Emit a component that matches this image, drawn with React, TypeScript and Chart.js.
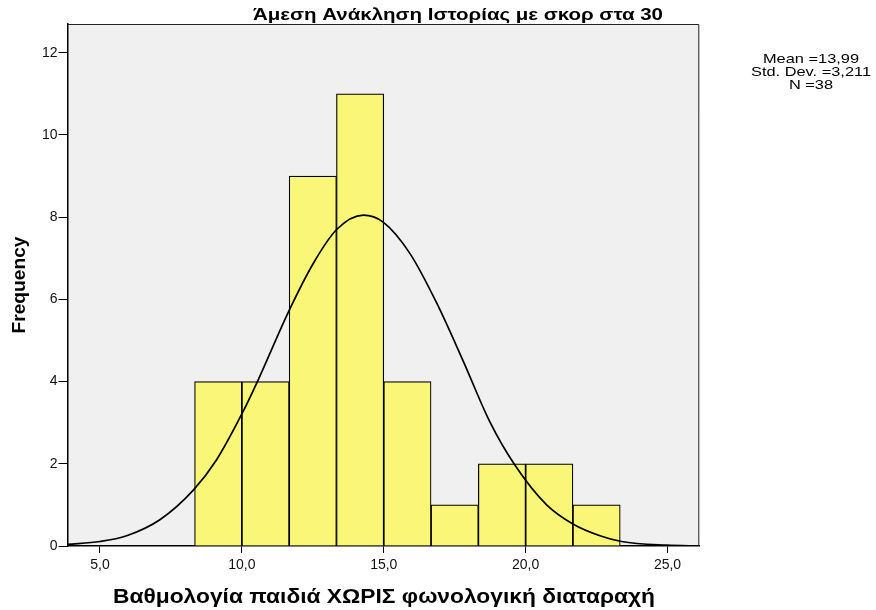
import React, { useEffect, useRef } from 'react';
import { Chart, registerables } from 'chart.js';

Chart.register(...registerables);

const chartTitle = 'Άμεση Ανάκληση Ιστορίας με σκορ στα 30';
const xAxisTitle = 'Βαθμολογία παιδιά ΧΩΡΙΣ φωνολογική διαταραχή';
const yAxisTitle = 'Frequency';
const statsLines = ['Mean =13,99', 'Std. Dev. =3,211', 'N =38'];

const binStarts = [8.3333, 10.0, 11.6667, 13.3333, 15.0, 16.6667, 18.3333, 20.0, 21.6667];
const binWidth = 1.6667;
const frequencies = [4, 4, 9, 11, 4, 1, 2, 2, 1];

const curveX = [3.85, 5.0, 5.94, 7.11, 8.29, 9.11, 9.99, 10.58, 11.63, 12.52, 13.34, 14.28, 14.98, 15.92, 16.86, 17.8, 18.74, 19.62, 20.74, 21.68, 22.62, 23.38, 24.97, 26.14];
const curveY = [0.04, 0.11, 0.25, 0.64, 1.36, 2.1, 3.2, 4.05, 5.68, 6.88, 7.7, 8.05, 7.88, 7.12, 5.92, 4.5, 3.02, 1.97, 1.0, 0.53, 0.25, 0.11, 0.02, 0.0];

const xTicks = [5, 10, 15, 20, 25];
const yTicks = [0, 2, 4, 6, 8, 10, 12];

const FONT = "Arial, 'Liberation Sans', sans-serif";

function drawText(
  ctx: CanvasRenderingContext2D,
  text: string,
  cx: number,
  by: number,
  font: string,
  targetW: number | null,
  rotate = false,
  fixedScale?: number
) {
  ctx.save();
  ctx.font = font;
  const w = ctx.measureText(text).width;
  const sx = fixedScale ? fixedScale : targetW ? targetW / w : 1;
  ctx.translate(cx, by);
  if (rotate) ctx.rotate(-Math.PI / 2);
  ctx.scale(sx, 1);
  ctx.textAlign = 'center';
  ctx.textBaseline = 'alphabetic';
  ctx.fillStyle = '#000';
  ctx.fillText(text, 0, 0);
  ctx.restore();
}

const decorPlugin = {
  id: 'decor',
  beforeDraw(chart: any) {
    const { ctx, chartArea: a } = chart;
    ctx.save();
    ctx.fillStyle = '#ffffff';
    ctx.fillRect(0, 0, chart.width, chart.height);
    ctx.fillStyle = '#F0F0F0';
    ctx.fillRect(a.left, a.top, a.right - a.left, a.bottom - a.top);
    ctx.restore();
  },
  afterDraw(chart: any) {
    const { ctx, chartArea: a } = chart;
    ctx.save();
    ctx.strokeStyle = '#222';
    ctx.lineWidth = 1;
    ctx.beginPath();
    ctx.moveTo(a.left, a.top + 0.5);
    ctx.lineTo(a.right - 0.5, a.top + 0.5);
    ctx.lineTo(a.right - 0.5, a.bottom);
    ctx.stroke();
    ctx.restore();

    drawText(ctx, chartTitle, 458, 19.5, `bold 16px ${FONT}`, 410);
    drawText(ctx, xAxisTitle, 384, 602.5, `bold 20px ${FONT}`, 542);
    drawText(ctx, yAxisTitle, 25.3, 285, `bold 19px ${FONT}`, 97, true);

    ctx.save();
    ctx.font = `13px ${FONT}`;
    const sw = ctx.measureText(statsLines[1]).width;
    ctx.restore();
    const s = 120 / sw;
    const baselines = [62.5, 75.5, 88.5];
    statsLines.forEach((t, i) => drawText(ctx, t, 811, baselines[i], `13px ${FONT}`, null, false, s));
  },
};

export default function App() {
  const ref = useRef<HTMLCanvasElement | null>(null);

  useEffect(() => {
    if (!ref.current) return;
    const barData = binStarts.map((st, i) => ({ x: st + binWidth / 2, y: frequencies[i] }));
    const lineData = curveX.map((x, i) => ({ x, y: curveY[i] }));

    const chart = new Chart(ref.current, {
      type: 'bar',
      data: {
        datasets: [
          {
            type: 'line',
            data: lineData,
            borderColor: '#000',
            borderWidth: 1.7,
            pointRadius: 0,
            fill: false,
            cubicInterpolationMode: 'monotone',
            order: 0,
          } as any,
          {
            type: 'bar',
            data: barData,
            backgroundColor: '#FAF678',
            borderColor: '#000',
            borderWidth: 1.2,
            barPercentage: 1,
            categoryPercentage: 1,
            order: 1,
          } as any,
        ],
      },
      options: {
        responsive: false,
        animation: false,
        devicePixelRatio: 1,
        layout: { padding: { top: 24, right: 176.7, left: 0, bottom: 0 } },
        plugins: {
          legend: { display: false },
          tooltip: { enabled: false },
          title: { display: false },
        },
        scales: {
          x: {
            type: 'linear',
            min: 3.855,
            max: 26.12,
            offset: false,
            afterBuildTicks: (sc: any) => {
              sc.ticks = xTicks.map((v) => ({ value: v }));
            },
            afterFit: (sc: any) => {
              sc.height = 64;
            },
            grid: {
              display: true,
              offset: false,
              drawOnChartArea: false,
              drawTicks: true,
              tickLength: 7,
              color: '#000',
              lineWidth: 1,
            },
            border: { display: true, color: '#000', width: 1.5 },
            ticks: {
              color: '#111',
              font: { family: FONT, size: 14 },
              padding: 4,
              maxRotation: 0,
              autoSkip: false,
              callback: (v: any) => Number(v).toFixed(1).replace('.', ','),
            },
          },
          y: {
            type: 'linear',
            min: 0,
            max: 12.7,
            afterBuildTicks: (sc: any) => {
              sc.ticks = yTicks.map((v) => ({ value: v }));
            },
            afterFit: (sc: any) => {
              sc.width = 67.5;
            },
            grid: {
              display: true,
              drawOnChartArea: false,
              drawTicks: true,
              tickLength: 9,
              color: '#000',
              lineWidth: 1,
            },
            border: { display: true, color: '#000', width: 1.5 },
            ticks: {
              color: '#111',
              font: { family: FONT, size: 14 },
              padding: 1,
              autoSkip: false,
              callback: (v: any) => String(v),
            },
          },
        },
      } as any,
      plugins: [decorPlugin],
    });
    return () => chart.destroy();
  }, []);

  return (
    <div style={{ position: 'fixed', left: 0, top: 0, width: 876, height: 610, background: '#fff' }}>
      <canvas ref={ref} width={876} height={610} style={{ width: 876, height: 610, display: 'block' }} />
    </div>
  );
}
